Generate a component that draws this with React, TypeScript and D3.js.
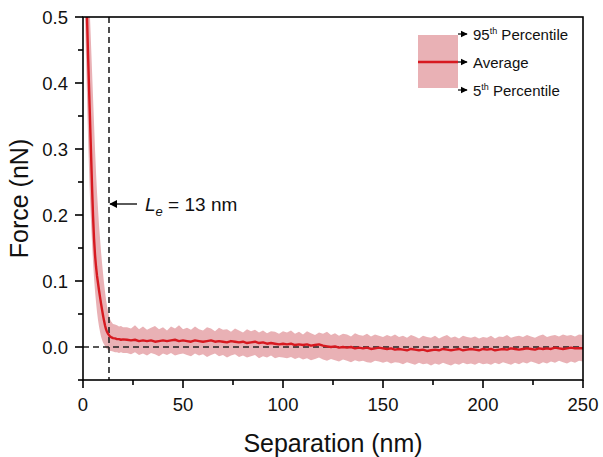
import React from "react";
import * as d3 from "d3";

// Decay region (nm)
const decayX = [1, 1.5, 2, 2.5, 3, 3.5, 4, 4.5, 5, 5.5, 6, 6.5, 7, 7.5, 8, 8.5, 9, 9.5, 10, 10.5, 11, 11.5, 12, 12.5, 13, 13.5, 14, 15, 16, 17, 18, 19, 20];
const decayMean = [0.62, 0.56, 0.5, 0.445, 0.395, 0.345, 0.295, 0.245, 0.2, 0.165, 0.14, 0.122, 0.108, 0.097, 0.086, 0.076, 0.066, 0.057, 0.048, 0.04, 0.033, 0.027, 0.023, 0.02, 0.018, 0.016, 0.015, 0.0135, 0.013, 0.012, 0.012, 0.011, 0.0115];
const decayUpper = [0.75, 0.66, 0.6, 0.56, 0.53, 0.5, 0.46, 0.42, 0.38, 0.34, 0.3, 0.265, 0.235, 0.21, 0.185, 0.165, 0.145, 0.128, 0.112, 0.097, 0.084, 0.072, 0.062, 0.054, 0.047, 0.042, 0.039, 0.035, 0.034, 0.033, 0.031, 0.032, 0.03];
const decayLower = [0.5, 0.44, 0.38, 0.32, 0.27, 0.225, 0.19, 0.158, 0.13, 0.105, 0.085, 0.068, 0.053, 0.041, 0.031, 0.023, 0.016, 0.011, 0.007, 0.004, 0.001, -0.001, -0.003, -0.004, -0.005, -0.006, -0.006, -0.007, -0.008, -0.008, -0.009, -0.008, -0.009];

// Flat region, sampled every 2 nm from 22 to 250
const flatMean = [
  0.011, 0.010, 0.011, 0.009, 0.010, 0.009, 0.010, 0.008, 0.009, 0.010, 0.009, 0.010, 0.011, 0.009, 0.010,
  0.009, 0.008, 0.010, 0.009, 0.008, 0.009, 0.010, 0.008, 0.009, 0.008, 0.007, 0.009, 0.008, 0.007, 0.008, 0.006, 0.007, 0.008, 0.006, 0.007, 0.005, 0.006, 0.005, 0.004, 0.005,
  0.004, 0.005, 0.003, 0.004, 0.003, 0.004, 0.002, 0.003, 0.004, 0.002, 0.001, 0.000, 0.001, -0.001, 0.000, -0.001, 0.000, -0.002, -0.001, -0.002, -0.001, -0.003, -0.002, -0.001, -0.002,
  -0.003, -0.002, -0.004, -0.003, -0.004, -0.005, -0.003, -0.004, -0.005, -0.004, -0.006, -0.005, -0.004, -0.005, -0.003, -0.004, -0.005, -0.004, -0.003, -0.005, -0.004, -0.003, -0.004, -0.005, -0.003,
  -0.004, -0.003, -0.005, -0.004, -0.003, -0.004, -0.002, -0.003, -0.004, -0.003, -0.002, -0.003, -0.004, -0.002, -0.003, -0.002, -0.003, -0.001, -0.002, -0.003, -0.002, -0.001, -0.002, -0.002, -0.002,
];
const flatUpper = [
  0.030, 0.028, 0.033, 0.027, 0.031, 0.026, 0.029, 0.032, 0.027, 0.030, 0.025, 0.031, 0.028, 0.033, 0.027,
  0.029, 0.026, 0.031, 0.027, 0.025, 0.030, 0.028, 0.024, 0.029, 0.026, 0.027, 0.023, 0.028, 0.025, 0.022, 0.027, 0.024, 0.026, 0.022, 0.025, 0.021, 0.024, 0.023, 0.020, 0.024,
  0.022, 0.025, 0.020, 0.023, 0.019, 0.024, 0.021, 0.018, 0.022, 0.020, 0.023, 0.018, 0.021, 0.017, 0.020, 0.019, 0.016, 0.021, 0.018, 0.017, 0.020, 0.016, 0.019, 0.017, 0.015,
  0.018, 0.016, 0.019, 0.015, 0.017, 0.014, 0.018, 0.016, 0.013, 0.017, 0.015, 0.014, 0.017, 0.013, 0.016, 0.018, 0.014, 0.016, 0.013, 0.017, 0.015, 0.014, 0.016, 0.013, 0.015,
  0.014, 0.017, 0.013, 0.016, 0.015, 0.018, 0.014, 0.016, 0.017, 0.015, 0.018, 0.016, 0.014, 0.017, 0.019, 0.015, 0.017, 0.018, 0.016, 0.019, 0.017, 0.018, 0.016, 0.019, 0.018,
];
const flatLower = [
  -0.009, -0.011, -0.008, -0.012, -0.010, -0.013, -0.009, -0.011, -0.014, -0.010, -0.012, -0.009, -0.013, -0.011, -0.010,
  -0.012, -0.014, -0.010, -0.013, -0.011, -0.015, -0.012, -0.010, -0.014, -0.012, -0.016, -0.013, -0.011, -0.015, -0.013, -0.016, -0.014, -0.012, -0.017, -0.014, -0.016, -0.013, -0.017, -0.015, -0.016,
  -0.017, -0.015, -0.018, -0.016, -0.019, -0.017, -0.020, -0.018, -0.016, -0.019, -0.021, -0.018, -0.020, -0.022, -0.019, -0.021, -0.023, -0.020, -0.022, -0.021, -0.023, -0.024, -0.021, -0.022, -0.024,
  -0.022, -0.025, -0.023, -0.024, -0.026, -0.023, -0.025, -0.027, -0.024, -0.026, -0.025, -0.028, -0.025, -0.027, -0.024, -0.026, -0.028, -0.025, -0.027, -0.024, -0.026, -0.025, -0.027, -0.024, -0.026,
  -0.025, -0.027, -0.024, -0.026, -0.023, -0.025, -0.027, -0.024, -0.026, -0.023, -0.025, -0.022, -0.024, -0.026, -0.023, -0.025, -0.022, -0.024, -0.021, -0.023, -0.025, -0.022, -0.024, -0.021, -0.022,
];
const flatX = d3.range(22, 251, 2);

const xTicks = [0, 50, 100, 150, 200, 250];
const xMinor = [25, 75, 125, 175, 225];
const yTicks = [0.0, 0.1, 0.2, 0.3, 0.4, 0.5];
const yMinor = [-0.05, 0.05, 0.15, 0.25, 0.35, 0.45];
const decayLength = 13;

const RED = "#d71920";
const PINK = "#e9b1b5";
const FONT = "'Liberation Sans', Arial, sans-serif";

const W = 603, H = 457;
const L = 83, R = 583, T = 17, B = 380;

export default function App() {
  const x = d3.scaleLinear().domain([0, 250]).range([L, R]);
  const y = d3.scaleLinear().domain([-0.05, 0.5]).range([B, T]);

  const xs = [...decayX, ...flatX];
  const mean = [...decayMean, ...flatMean];
  const upper = [...decayUpper, ...flatUpper];
  const lower = [...decayLower, ...flatLower];
  const pts = xs.map((v, i) => ({ x: v, m: mean[i], u: upper[i], l: lower[i] }));

  const area = d3.area<any>().x((d) => x(d.x)).y0((d) => y(d.l)).y1((d) => y(d.u));
  const line = d3.line<any>().x((d) => x(d.x)).y((d) => y(d.m));

  const fmt = d3.format(".1f");

  return (
    <svg width={W} height={H} style={{ position: "absolute", left: 0, top: 0, background: "#fff" }} fontFamily={FONT}>
      <defs>
        <clipPath id="plot">
          <rect x={L} y={T} width={R - L} height={B - T} />
        </clipPath>
        <marker id="ah" viewBox="0 0 10 10" refX="9" refY="5" markerWidth="6" markerHeight="6" orient="auto-start-reverse">
          <path d="M0,0 L10,5 L0,10 z" fill="#000" />
        </marker>
      </defs>
      <g clipPath="url(#plot)">
        <path d={area(pts) || ""} fill={PINK} />
        <line x1={x(0)} x2={x(250)} y1={y(0)} y2={y(0)} stroke="#222" strokeWidth={1.6} strokeDasharray="6,4" />
        <line x1={x(decayLength)} x2={x(decayLength)} y1={T} y2={B} stroke="#222" strokeWidth={1.6} strokeDasharray="6,4" />
        <path d={line(pts) || ""} fill="none" stroke={RED} strokeWidth={2.4} strokeLinejoin="round" />
      </g>
      {/* frame */}
      <rect x={L} y={T} width={R - L} height={B - T} fill="none" stroke="#000" strokeWidth={1.6} />
      {/* x ticks */}
      {xTicks.map((t) => (
        <g key={"xt" + t}>
          <line x1={x(t)} x2={x(t)} y1={B} y2={B + 8} stroke="#000" strokeWidth={1.6} />
          <text x={x(t)} y={411} textAnchor="middle" fontSize={18.5} fill="#111">{t}</text>
        </g>
      ))}
      {xMinor.map((t) => (
        <line key={"xm" + t} x1={x(t)} x2={x(t)} y1={B} y2={B + 5} stroke="#000" strokeWidth={1.6} />
      ))}
      {yTicks.map((t) => (
        <g key={"yt" + t}>
          <line x1={L - 8} x2={L} y1={y(t)} y2={y(t)} stroke="#000" strokeWidth={1.6} />
          <text x={68} y={y(t) + 6.5} textAnchor="end" fontSize={18.5} fill="#111">{fmt(t)}</text>
        </g>
      ))}
      {yMinor.map((t) => (
        <line key={"ym" + t} x1={L - 5} x2={L} y1={y(t)} y2={y(t)} stroke="#000" strokeWidth={1.6} />
      ))}
      {/* axis titles */}
      <text x={(L + R) / 2} y={452} textAnchor="middle" fontSize={25} fill="#111">Separation (nm)</text>
      <text transform={`translate(28, ${(T + B) / 2}) rotate(-90)`} textAnchor="middle" fontSize={25} fill="#111">Force (nN)</text>

      {/* annotation */}
      <line x1={137} x2={x(decayLength) + 1} y1={204} y2={204} stroke="#000" strokeWidth={1.3} markerEnd="url(#ah)" />
      <text x={145} y={211} fontSize={19} fill="#111">
        <tspan fontStyle="italic">L</tspan>
        <tspan fontStyle="italic" fontSize={13} dy={5}>e</tspan>
        <tspan dy={-5}> = 13 nm</tspan>
      </text>

      {/* legend */}
      <rect x={418} y={35} width={40} height={53} fill={PINK} />
      <line x1={418} x2={458} y1={62} y2={62} stroke={RED} strokeWidth={2.4} />
      {[34, 62, 90].map((yy) => (
        <line key={"la" + yy} x1={458} x2={467} y1={yy} y2={yy} stroke="#000" strokeWidth={1.2} markerEnd="url(#ah)" />
      ))}
      <text x={473} y={40} fontSize={15} fill="#111">
        95<tspan fontSize={9} dy={-6}>th</tspan><tspan dy={6}> Percentile</tspan>
      </text>
      <text x={473} y={68} fontSize={15} fill="#111">Average</text>
      <text x={473} y={96} fontSize={15} fill="#111">
        5<tspan fontSize={9} dy={-6}>th</tspan><tspan dy={6}> Percentile</tspan>
      </text>
    </svg>
  );
}
